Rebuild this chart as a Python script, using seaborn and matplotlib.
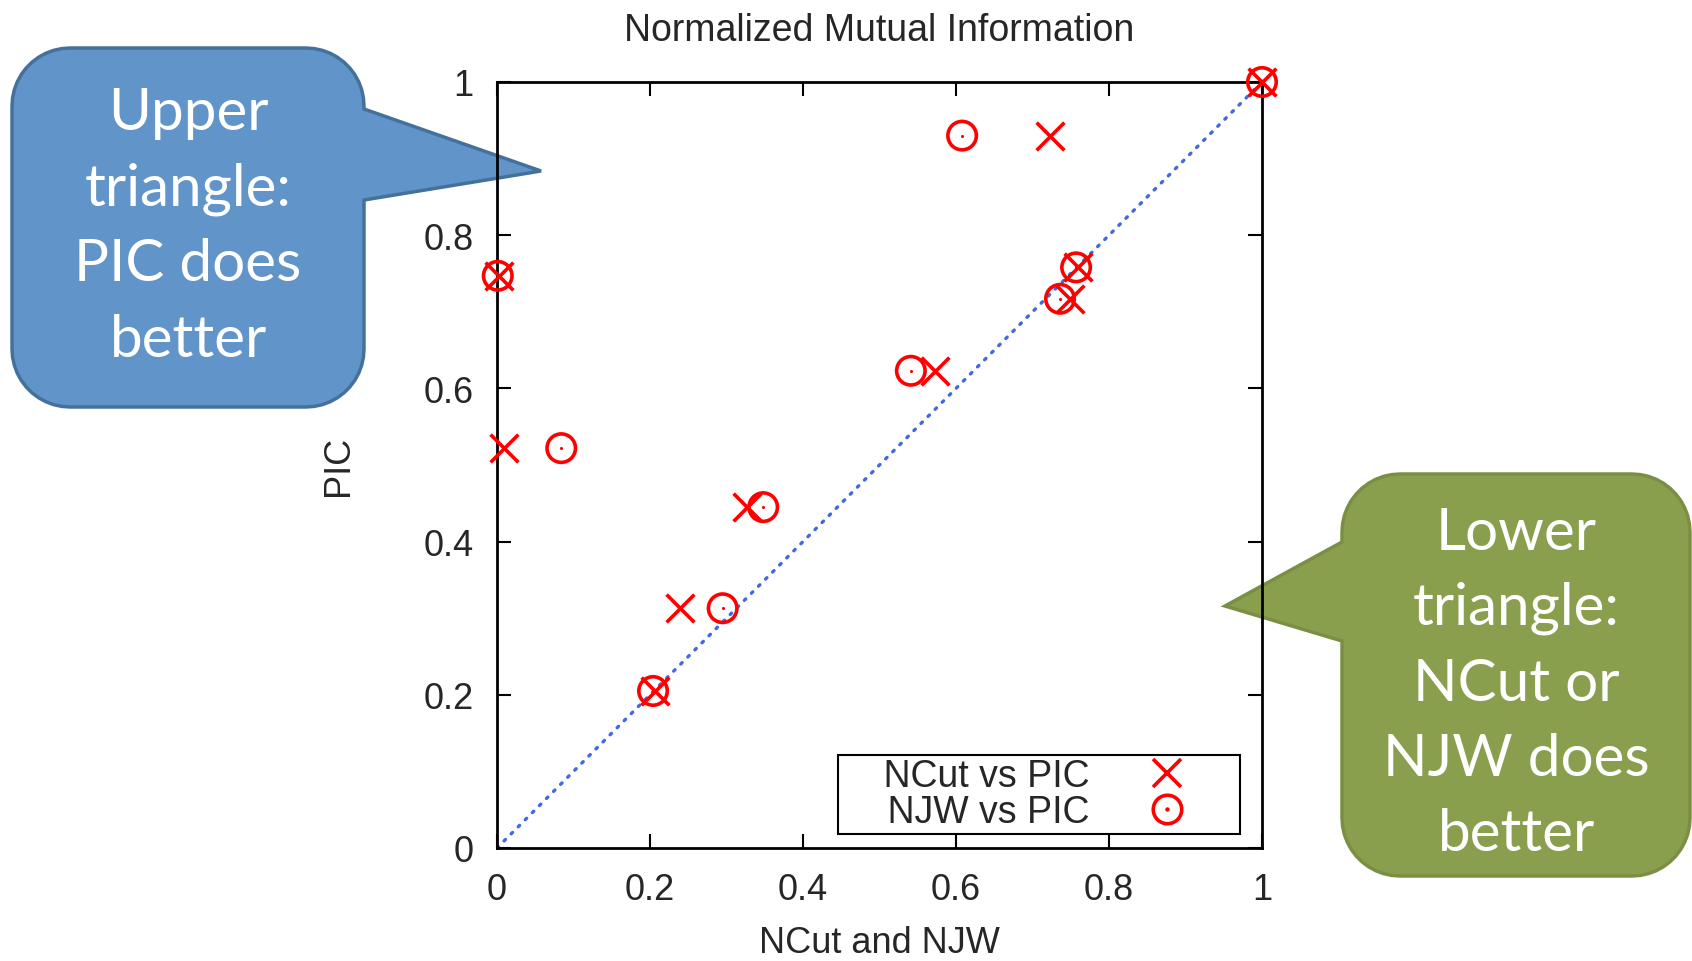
import matplotlib
matplotlib.use("Agg")
import numpy as np
import matplotlib.pyplot as plt
from matplotlib.lines import Line2D
from matplotlib.patches import Polygon
import seaborn as sns

# значения
pic = [1.0, 0.930, 0.747, 0.758, 0.717, 0.623, 0.522, 0.445, 0.313, 0.205]
ncut = [1.0, 0.723, 0.003, 0.759, 0.749, 0.573, 0.009, 0.327, 0.239, 0.207]
njw = [1.0, 0.608, 0.001, 0.757, 0.736, 0.541, 0.084, 0.348, 0.295, 0.204]
diag = [0, 1]
ticks = [0, 0.2, 0.4, 0.6, 0.8, 1]
tick_labels = ["0", "0.2", "0.4", "0.6", "0.8", "1"]
legend_labels = ["NCut vs PIC", "NJW vs PIC"]
upper_text = "Upper\ntriangle:\nPIC does\nbetter"
lower_text = "Lower\ntriangle:\nNCut or\nNJW does\nbetter"

W, H = 1692, 962

sns.set_style("ticks")
plt.rcParams["font.family"] = ["Liberation Sans", "DejaVu Sans"]

fig = plt.figure(figsize=(W / 100, H / 100), dpi=100)
ax = fig.add_axes([497 / W, 1 - 849 / H, 765 / W, 766 / H])
ax.set_facecolor("none")


# выноска со скруглёнными углами и хвостиком (координаты в пикселях, y вниз)
def callout(x0, y0, x1, y1, r, side, ya, yb, tip, fc, ec):
    def arc(cx, cy, a0, a1):
        t = np.radians(np.linspace(a0, a1, 12))
        return list(zip(cx + r * np.cos(t), cy + r * np.sin(t)))
    pts = arc(x1 - r, y0 + r, -90, 0)
    if side == "right":
        pts += [(x1, ya), tip, (x1, yb)]
    pts += arc(x1 - r, y1 - r, 0, 90)
    pts += arc(x0 + r, y1 - r, 90, 180)
    if side == "left":
        pts += [(x0, yb), tip, (x0, ya)]
    pts += arc(x0 + r, y0 + r, 180, 270)
    pts = [(x / W, 1 - y / H) for x, y in pts]
    poly = Polygon(pts, closed=True, facecolor=fc, edgecolor=ec, linewidth=2.5,
                   transform=fig.transFigure, zorder=-1)
    fig.add_artist(poly)


callout(12, 49, 364, 408, 58, "right", 110, 201, (541, 172), "#6194c8", "#44719c")
callout(1342, 475, 1690, 877, 58, "left", 543, 642, (1225, 607), "#899f4d", "#7b8f44")

fig.text(188 / W, 1 - 227 / H, upper_text, ha="center", va="center", color="white",
         fontsize=42, family=["Lato", "DejaVu Sans"], linespacing=1.52, zorder=0)
fig.text(1516 / W, 1 - 684 / H, lower_text, ha="center", va="center", color="white",
         fontsize=42, family=["Lato", "DejaVu Sans"], linespacing=1.52, zorder=0)

# диагональ
sns.lineplot(x=diag, y=diag, ax=ax, color="#4169e1", linewidth=2.4,
             linestyle=(0, (0.6, 2.4)), dash_capstyle="round", zorder=2)

# точки
sns.scatterplot(x=ncut, y=pic, ax=ax, marker="x", s=400, color="red",
                linewidth=2.6, clip_on=False, zorder=3)
sns.scatterplot(x=njw, y=pic, ax=ax, marker="o", s=420, facecolor="none",
                edgecolor="red", linewidth=2.6, clip_on=False, zorder=3)
sns.scatterplot(x=njw, y=pic, ax=ax, marker="o", s=5, color="red",
                linewidth=0, clip_on=False, zorder=3)

ax.set_xlim(0, 1)
ax.set_ylim(0, 1)
ax.set_xticks(ticks)
ax.set_xticklabels(tick_labels)
ax.set_yticks(ticks)
ax.set_yticklabels(tick_labels)
ax.tick_params(direction="in", length=10, width=1.5, top=True, right=True,
               labelsize=26, color="black")
ax.tick_params(axis="x", pad=17)
ax.tick_params(axis="y", pad=17)
for sp in ax.spines.values():
    sp.set_visible(True)
    sp.set_linewidth(2)
    sp.set_color("black")

ax.set_title("Normalized Mutual Information", fontsize=27, pad=30)
ax.set_xlabel("NCut and NJW", fontsize=26, labelpad=13)
ax.set_ylabel("PIC", fontsize=26, labelpad=48)

# легенда: подпись слева, значок справа
h_x = Line2D([], [], linestyle="none", marker="x", markersize=20,
             markeredgewidth=2.6, color="red")
h_o = Line2D([], [], linestyle="none", marker="o", markersize=20.5,
             markeredgewidth=2.6, markerfacecolor="none", markeredgecolor="red")
h_dot = Line2D([], [], linestyle="none", marker="o", markersize=2.2, color="red")
leg = ax.legend([h_x, (h_o, h_dot)], ["    " + t for t in legend_labels],
                loc="lower right", bbox_to_anchor=(0.971, 0.018), borderaxespad=0,
                markerfirst=False, fontsize=27, fancybox=False, framealpha=1,
                edgecolor="black", borderpad=0.1, labelspacing=0.0,
                handlelength=3.7, handletextpad=0.2)
leg.get_frame().set_linewidth(1.5)

fig.savefig("out.png", dpi=100)
